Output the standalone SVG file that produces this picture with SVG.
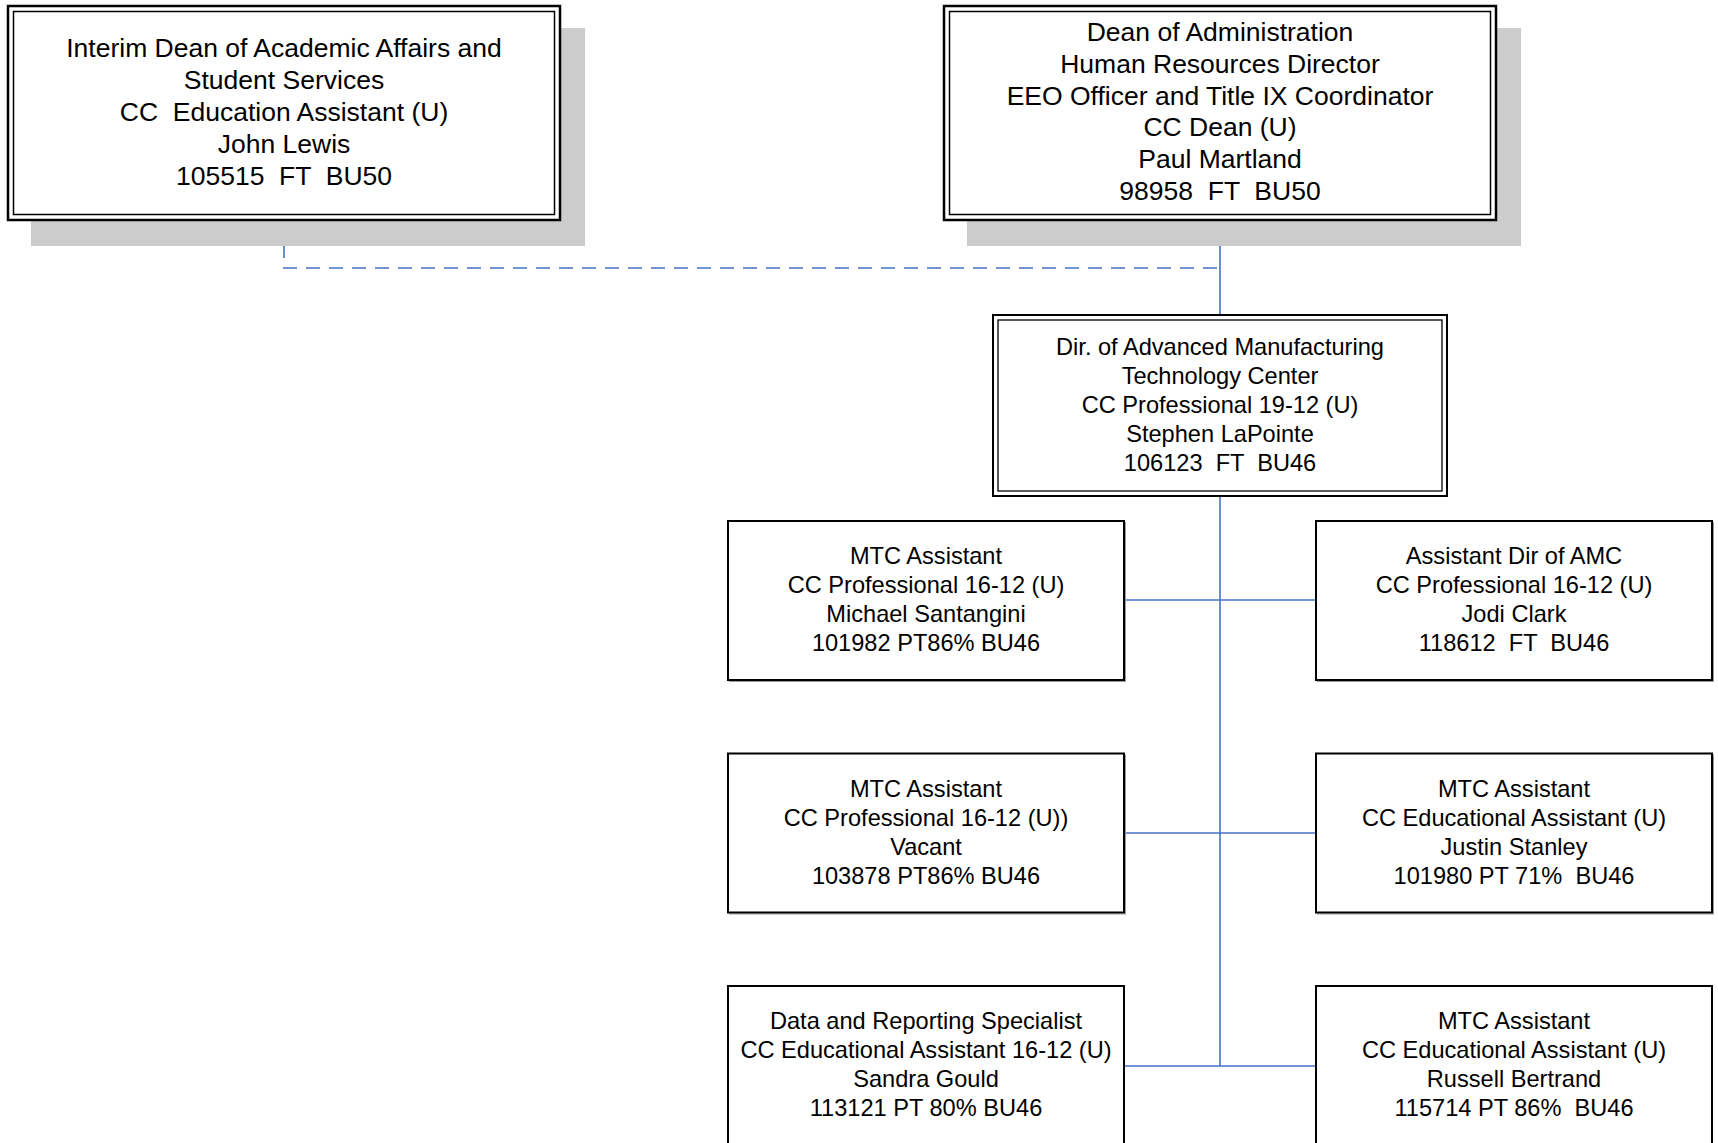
<svg xmlns="http://www.w3.org/2000/svg" width="1718" height="1143" viewBox="0 0 1718 1143">
  <style>
    .bg { fill: #ffffff; }
    .shadow { fill: #cccccc; }
    .frame-outer { fill: #ffffff; stroke: #000000; stroke-width: 2.5; }
    .frame-inner { fill: none; stroke: #000000; stroke-width: 1.5; }
    .box { fill: #ffffff; stroke: #000000; stroke-width: 2; }
    .box-shade { fill: none; stroke: #9a9a9a; stroke-width: 1; }
    .link { fill: none; stroke: #4472c4; stroke-width: 1.6; }
    .dotted { stroke-dasharray: 14 9; }
    text { font-family: "Liberation Sans", Arial, sans-serif; fill: #000000; text-anchor: middle; white-space: pre; }
    .big { font-size: 26.5px; }
    .small { font-size: 23.6px; }
  </style>

  <rect class="bg" x="0" y="0" width="1718" height="1143"/>

  <!-- reporting lines -->
  <g id="connectors">
    <path class="link dotted" d="M284 221 V268 H1220"/>
    <path class="link" d="M1220 221 V314"/>
    <path class="link" d="M1220 497 V1066"/>
    <path class="link" d="M1124 600 H1316"/>
    <path class="link" d="M1124 833 H1316"/>
    <path class="link" d="M1124 1066 H1316"/>
  </g>

  <!-- Interim Dean of Academic Affairs -->
  <g id="node-interim-dean">
    <rect class="shadow" x="31" y="28" width="554" height="218"/>
    <rect class="frame-outer" x="8" y="6" width="552" height="214"/>
    <rect class="frame-inner" x="13.5" y="11.5" width="541" height="203"/>
    <text class="big" xml:space="preserve"><tspan x="284" y="57">Interim Dean of Academic Affairs and</tspan><tspan x="284" y="89">Student Services</tspan><tspan x="284" y="121">CC  Education Assistant (U)</tspan><tspan x="284" y="153">John Lewis</tspan><tspan x="284" y="185">105515  FT  BU50</tspan></text>
  </g>

  <!-- Dean of Administration -->
  <g id="node-dean-admin">
    <rect class="shadow" x="967" y="28" width="554" height="218"/>
    <rect class="frame-outer" x="944" y="6" width="552" height="214"/>
    <rect class="frame-inner" x="949.5" y="11.5" width="541" height="203"/>
    <text class="big" xml:space="preserve"><tspan x="1220" y="41">Dean of Administration</tspan><tspan x="1220" y="72.8">Human Resources Director</tspan><tspan x="1220" y="104.6">EEO Officer and Title IX Coordinator</tspan><tspan x="1220" y="136.4">CC Dean (U)</tspan><tspan x="1220" y="168.2">Paul Martland</tspan><tspan x="1220" y="200">98958  FT  BU50</tspan></text>
  </g>

  <!-- Director, Advanced Manufacturing Technology Center -->
  <g id="node-director-amtc">
    <rect class="frame-outer" x="993" y="315" width="454" height="181" style="stroke-width:2"/>
    <rect class="frame-inner" x="998" y="320" width="444" height="171" style="stroke-width:1.3"/>
    <text class="small" xml:space="preserve"><tspan x="1220" y="355">Dir. of Advanced Manufacturing</tspan><tspan x="1220" y="384">Technology Center</tspan><tspan x="1220" y="413">CC Professional 19-12 (U)</tspan><tspan x="1220" y="442">Stephen LaPointe</tspan><tspan x="1220" y="471">106123  FT  BU46</tspan></text>
  </g>

  <!-- staff row 1 -->
  <g id="node-santangini">
    <rect class="box-shade" x="729.5" y="522.5" width="396" height="159"/>
    <rect class="box" x="728" y="521" width="396" height="159"/>
    <text class="small" xml:space="preserve"><tspan x="926" y="564">MTC Assistant</tspan><tspan x="926" y="593">CC Professional 16-12 (U)</tspan><tspan x="926" y="622">Michael Santangini</tspan><tspan x="926" y="651">101982 PT86% BU46</tspan></text>
  </g>
  <g id="node-clark">
    <rect class="box-shade" x="1317.5" y="522.5" width="396" height="159"/>
    <rect class="box" x="1316" y="521" width="396" height="159"/>
    <text class="small" xml:space="preserve"><tspan x="1514" y="564">Assistant Dir of AMC</tspan><tspan x="1514" y="593">CC Professional 16-12 (U)</tspan><tspan x="1514" y="622">Jodi Clark</tspan><tspan x="1514" y="651">118612  FT  BU46</tspan></text>
  </g>

  <!-- staff row 2 -->
  <g id="node-vacant">
    <rect class="box-shade" x="729.5" y="755" width="396" height="159"/>
    <rect class="box" x="728" y="753.5" width="396" height="159"/>
    <text class="small" xml:space="preserve"><tspan x="926" y="797">MTC Assistant</tspan><tspan x="926" y="826">CC Professional 16-12 (U))</tspan><tspan x="926" y="855">Vacant</tspan><tspan x="926" y="884">103878 PT86% BU46</tspan></text>
  </g>
  <g id="node-stanley">
    <rect class="box-shade" x="1317.5" y="755" width="396" height="159"/>
    <rect class="box" x="1316" y="753.5" width="396" height="159"/>
    <text class="small" xml:space="preserve"><tspan x="1514" y="797">MTC Assistant</tspan><tspan x="1514" y="826">CC Educational Assistant (U)</tspan><tspan x="1514" y="855">Justin Stanley</tspan><tspan x="1514" y="884">101980 PT 71%  BU46</tspan></text>
  </g>

  <!-- staff row 3 -->
  <g id="node-gould">
    <rect class="box" x="728" y="986" width="396" height="159"/>
    <text class="small" xml:space="preserve"><tspan x="926" y="1029">Data and Reporting Specialist</tspan><tspan x="926" y="1058">CC Educational Assistant 16-12 (U)</tspan><tspan x="926" y="1087">Sandra Gould</tspan><tspan x="926" y="1116">113121 PT 80% BU46</tspan></text>
  </g>
  <g id="node-bertrand">
    <rect class="box" x="1316" y="986" width="396" height="159"/>
    <text class="small" xml:space="preserve"><tspan x="1514" y="1029">MTC Assistant</tspan><tspan x="1514" y="1058">CC Educational Assistant (U)</tspan><tspan x="1514" y="1087">Russell Bertrand</tspan><tspan x="1514" y="1116">115714 PT 86%  BU46</tspan></text>
  </g>
</svg>
